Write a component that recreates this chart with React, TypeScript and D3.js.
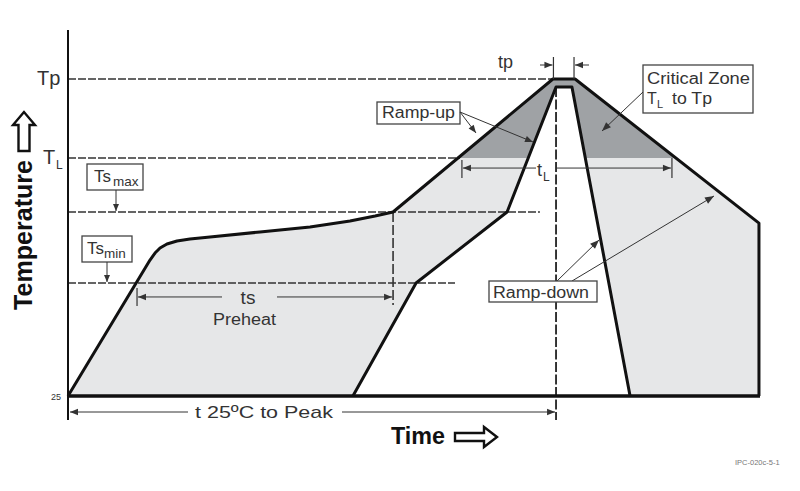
import React from 'react';
import * as d3 from 'd3';

const W = 800;
const H = 491;

// Scales: time (s) and temperature (°C), schematic profile
const timeDomain = [0, 400];
const tempDomain = [25, 260];

// Reference temperature levels
const levelNames = ['25', 'Ts_min', 'Ts_max', 'T_L', 'Tp'];
const levelTemps = [25, 108.8, 161.4, 201.4, 260];
// how far (in time) each dashed level line extends
const levelLineEnds = [0, 223.7, 272.8, 226.6, 280.3];

// Upper (max) profile
const outerTime = [0, 47.4, 50.3, 53.2, 57.2, 63.0, 70.5, 82.1, 111.0, 139.9, 163.0, 177.5, 187.9, 280.3, 293.1, 399.4, 399.4];
const outerTemp = [25, 125.8, 131.0, 134.7, 137.7, 139.9, 141.4, 142.9, 146.6, 150.3, 154.7, 158.4, 161.4, 260, 260, 153.2, 25];
// Lower (min) profile
const innerTime = [164.7, 201.2, 253.8, 282.1, 291.3, 324.9];
const innerTemp = [25, 108.8, 161.4, 254.1, 254.1, 25];

// Time spans for dimension arrows
const tsSpan = [39.9, 187.9];
const tLSpan = [227.7, 349.1];
const tpSpan = [280.6, 292.5];
const tPeak = 282.1;

const FONT = 'Liberation Sans, Arial, Helvetica, sans-serif';

function head(x: number, y: number, ang: number, size = 8, w = 3.5) {
  const c = Math.cos(ang), s = Math.sin(ang);
  const bx = x - size * c, by = y - size * s;
  return `M${x},${y}L${bx - w * s},${by + w * c}L${bx + w * s},${by - w * c}Z`;
}

function Arrow({ x1, y1, x2, y2, sw = 1, color = '#333', size = 8, w = 3.2 }: any) {
  const ang = Math.atan2(y2 - y1, x2 - x1);
  return (
    <g>
      <line x1={x1} y1={y1} x2={x2} y2={y2} stroke={color} strokeWidth={sw} />
      <path d={head(x2, y2, ang, size, w)} fill={color} />
    </g>
  );
}

export default function App() {
  const x = d3.scaleLinear().domain(timeDomain).range([68, 760]);
  const y = d3.scaleLinear().domain(tempDomain).range([396, 79]);

  const outerPts: [number, number][] = outerTime.map((t, i) => [t, outerTemp[i]]);
  const innerPts: [number, number][] = innerTime.map((t, i) => [t, innerTemp[i]]);
  const line = d3.line<[number, number]>().x(d => x(d[0])).y(d => y(d[1]));
  const areaPath = line([...outerPts, ...innerPts.slice().reverse()]) + 'Z';

  const yTs = y(levelTemps[1]);
  const yTsMax = y(levelTemps[2]);
  const yTL = y(levelTemps[3]);
  const yTp = y(levelTemps[4]);
  const y0 = y(25);

  const tsY = yTs + 14;
  const tLY = yTL + 10;
  const t25Y = y0 + 16;

  const txt = { fontFamily: FONT, fill: '#333' } as any;

  return (
    <svg width={W} height={H} style={{ position: 'absolute', left: 0, top: 0, background: '#fff' }}>
      <defs>
        <clipPath id="crit">
          <rect x={0} y={0} width={W} height={yTL} />
        </clipPath>
      </defs>

      {/* shaded process window */}
      <path d={areaPath} fill="#e6e7e8" />
      <path d={areaPath} fill="#9fa2a5" clipPath="url(#crit)" />

      {/* dashed level lines */}
      {levelTemps.map((T, i) =>
        i === 0 ? null : (
          <line key={levelNames[i]} x1={x(0)} x2={x(levelLineEnds[i])} y1={y(T)} y2={y(T)}
            stroke="#333" strokeWidth={1.5} strokeDasharray="8,2" />
        )
      )}

      {/* vertical guides */}
      <line x1={x(tsSpan[1])} x2={x(tsSpan[1])} y1={yTsMax} y2={tsY + 8} stroke="#333" strokeWidth={1.6} strokeDasharray="10,3" />
      <line x1={x(tPeak)} x2={x(tPeak)} y1={y(254.1)} y2={y0 + 24} stroke="#222" strokeWidth={1.8} strokeDasharray="10,2.5" />

      {/* axes */}
      <line x1={x(0)} x2={x(0)} y1={30} y2={y0 + 24} stroke="#111" strokeWidth={2} />
      <line x1={x(0)} x2={x(400)} y1={y0} y2={y0} stroke="#111" strokeWidth={3.5} />

      {/* profiles */}
      <path d={line(outerPts) || ''} fill="none" stroke="#111" strokeWidth={3} strokeLinejoin="round" />
      <path d={line(innerPts) || ''} fill="none" stroke="#111" strokeWidth={3} strokeLinejoin="round" />

      {/* ts / Preheat */}
      <line x1={x(tsSpan[0])} x2={x(tsSpan[0])} y1={tsY - 9} y2={tsY + 9} stroke="#333" strokeWidth={1.2} />
      <Arrow x1={222} y1={tsY} x2={x(tsSpan[0]) + 1} y2={tsY} />
      <Arrow x1={277} y1={tsY} x2={x(tsSpan[1]) - 1} y2={tsY} />
      <text x={248} y={tsY + 7} textAnchor="middle" fontSize={19} {...txt}>ts</text>
      <text x={213} y={325} fontSize={16} textLength={63} lengthAdjust="spacingAndGlyphs" {...txt}>Preheat</text>

      {/* tL */}
      <line x1={x(tLSpan[0])} x2={x(tLSpan[0])} y1={tLY - 8} y2={tLY + 10} stroke="#333" strokeWidth={1.2} />
      <line x1={x(tLSpan[1])} x2={x(tLSpan[1])} y1={tLY - 10} y2={tLY + 10} stroke="#333" strokeWidth={1.2} />
      <Arrow x1={536} y1={tLY} x2={x(tLSpan[0]) + 1} y2={tLY} />
      <Arrow x1={557} y1={tLY} x2={x(tLSpan[1]) - 1} y2={tLY} />
      <text x={537} y={tLY + 8} fontSize={18} {...txt}>t</text>
      <text x={543} y={tLY + 13} fontSize={12} {...txt}>L</text>

      {/* tp */}
      <line x1={x(tpSpan[0])} x2={x(tpSpan[0])} y1={57} y2={yTp} stroke="#333" strokeWidth={1.2} />
      <line x1={x(tpSpan[1])} x2={x(tpSpan[1])} y1={57} y2={yTp} stroke="#333" strokeWidth={1.2} />
      <Arrow x1={540} y1={65} x2={x(tpSpan[0]) - 1} y2={65} />
      <Arrow x1={589} y1={65} x2={x(tpSpan[1]) + 1} y2={65} />
      <text x={498} y={68} fontSize={18} {...txt}>tp</text>

      {/* t 25°C to Peak */}
      <Arrow x1={188} y1={t25Y} x2={x(0) + 2} y2={t25Y} />
      <Arrow x1={342} y1={t25Y} x2={x(tPeak) - 1} y2={t25Y} />
      <text x={195} y={t25Y + 6} fontSize={17} textLength={138} lengthAdjust="spacingAndGlyphs" {...txt}>t  25ºC to Peak</text>

      {/* level labels */}
      <text x={37} y={85} fontSize={20} {...txt}>Tp</text>
      <text x={43} y={yTL + 6} fontSize={20} {...txt}>T</text>
      <text x={56} y={yTL + 11} fontSize={12} {...txt}>L</text>
      <text x={61} y={y0 + 4} fontSize={9} textAnchor="end" {...txt}>25</text>

      {/* Ts max box */}
      <rect x={87} y={164} width={56} height={26} fill="#fff" stroke="#444" strokeWidth={1.3} />
      <text x={94} y={182} fontSize={17} {...txt}>Ts</text>
      <text x={113} y={186} fontSize={13.5} {...txt}>max</text>
      <Arrow x1={116} y1={190} x2={116} y2={yTsMax - 1} size={7} w={3} />

      {/* Ts min box */}
      <rect x={82} y={236} width={50} height={26} fill="#fff" stroke="#444" strokeWidth={1.3} />
      <text x={87} y={254} fontSize={17} {...txt}>Ts</text>
      <text x={104} y={258} fontSize={13.5} {...txt}>min</text>
      <Arrow x1={107} y1={262} x2={107} y2={yTs - 1} size={7} w={3} />

      {/* Ramp-up */}
      <rect x={377} y={102} width={83} height={22} fill="#fff" stroke="#444" strokeWidth={1.3} />
      <text x={382} y={118} fontSize={16} textLength={73} lengthAdjust="spacingAndGlyphs" {...txt}>Ramp-up</text>
      <Arrow x1={460} y1={112} x2={476} y2={133} size={8} w={3.2} />
      <Arrow x1={460} y1={112} x2={533} y2={142} size={8} w={3.2} />

      {/* Critical zone */}
      <rect x={643} y={65} width={110} height={48} fill="#fff" stroke="#444" strokeWidth={1.3} />
      <text x={647} y={84} fontSize={16} textLength={103} lengthAdjust="spacingAndGlyphs" {...txt}>Critical Zone</text>
      <text x={647} y={104} fontSize={16} {...txt}>T</text>
      <text x={657} y={108} fontSize={11} {...txt}>L</text>
      <text x={672} y={104} fontSize={16} textLength={40} lengthAdjust="spacingAndGlyphs" {...txt}>to Tp</text>
      <Arrow x1={643} y1={92} x2={602} y2={131} size={9} w={3.5} />

      {/* Ramp-down */}
      <Arrow x1={557} y1={281} x2={599} y2={240} size={9} w={3.5} />
      <Arrow x1={572} y1={281} x2={714} y2={196} size={9} w={3.5} />
      <rect x={489} y={281} width={108} height={21} fill="#fff" stroke="#444" strokeWidth={1.3} />
      <text x={493} y={298} fontSize={16} textLength={96} lengthAdjust="spacingAndGlyphs" {...txt}>Ramp-down</text>

      {/* axis titles */}
      <text transform="translate(32,310) rotate(-90)" fontSize={25} fontWeight="bold" fontFamily={FONT} fill="#111"
        textLength={150} lengthAdjust="spacingAndGlyphs">Temperature</text>
      <path d="M24,112 L13,125 L18.5,125 L18.5,151 L29.5,151 L29.5,125 L35,125 Z" fill="#fff" stroke="#111" strokeWidth={2.4} strokeLinejoin="miter" />

      <text x={391} y={444} fontSize={23} fontWeight="bold" fontFamily={FONT} fill="#111" textLength={54} lengthAdjust="spacingAndGlyphs">Time</text>
      <path d="M497,437 L484,427 L484,433 L455,433 L455,441 L484,441 L484,447 Z" fill="#fff" stroke="#111" strokeWidth={2.4} />

      {/* footnote */}
      <text x={735} y={465} fontSize={7.5} fontFamily={FONT} fill="#777">IPC-020c-5-1</text>
    </svg>
  );
}
